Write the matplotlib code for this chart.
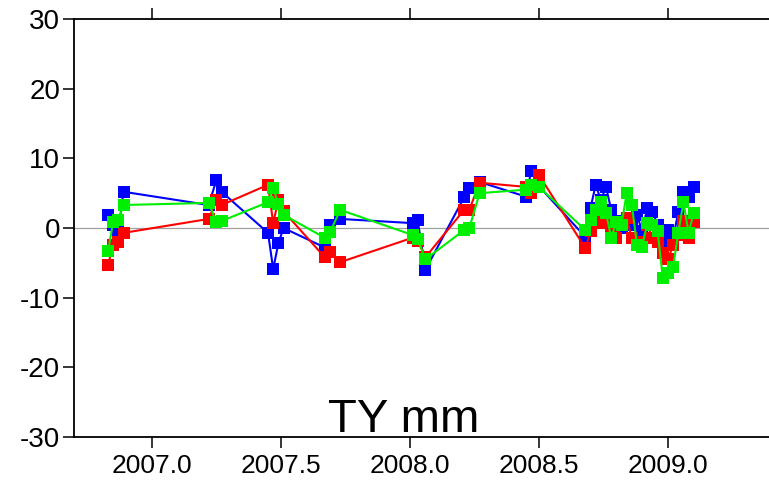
"""TY component time series, three solutions (blue / red / green)."""

import matplotlib

matplotlib.use("Agg")
import matplotlib.pyplot as plt

plt.rcParams["font.family"] = ["Liberation Sans", "DejaVu Sans"]
plt.rcParams["axes.unicode_minus"] = False

# epochs (decimal year), shared by the three series
EPOCHS = [
    2006.83, 2006.85, 2006.87, 2006.89,
    2007.22, 2007.25, 2007.27,
    2007.45, 2007.47, 2007.49, 2007.51,
    2007.67, 2007.69, 2007.73,
    2008.01, 2008.03, 2008.06,
    2008.21, 2008.23, 2008.27,
    2008.45, 2008.47, 2008.50,
    2008.68, 2008.70, 2008.72, 2008.74, 2008.76, 2008.78, 2008.80,
    2008.82, 2008.84, 2008.86, 2008.88, 2008.90, 2008.92, 2008.94,
    2008.96, 2008.98, 2009.00, 2009.02, 2009.04, 2009.06, 2009.08,
    2009.10,
]

TY_BLUE = [
    1.9, 0.4, -0.3, 5.2,
    3.3, 6.9, 5.2,
    -0.7, -5.9, -2.2, 0.0,
    -2.8, 0.4, 1.3,
    0.7, 1.1, -6.0,
    4.4, 5.7, 6.6,
    4.5, 8.2, 6.0,
    -1.3, 2.9, 6.2, 4.0, 5.9, 2.6, 1.0,
    0.0, 1.5, 0.5, 1.9, -0.5, 2.9, 2.3,
    0.5, -2.0, -0.3, -1.5, 2.3, 5.2, 4.5,
    5.9,
]

TY_RED = [
    -5.3, -2.4, -2.0, -0.7,
    1.3, 4.0, 3.3,
    6.2, 0.7, 4.0, 2.4,
    -4.2, -3.4, -4.9,
    -1.4, -1.8, -4.2,
    2.6, 2.6, 6.5,
    5.9, 5.0, 7.6,
    -2.9, -0.5, 0.7, 1.5, 0.7, -0.5, -1.4,
    0.5, 1.5, -1.5, -2.5, -2.0, 0.5, -1.5,
    -2.0, -3.6, -4.5, -2.5, -1.0, 1.0, -1.5,
    0.9,
]

TY_GREEN = [
    -3.3, 0.9, 1.1, 3.3,
    3.6, 0.8, 1.0,
    3.7, 5.7, 3.5, 1.9,
    -1.4, -0.6, 2.6,
    -1.0, -1.6, -4.5,
    -0.3, 0.0, 5.0,
    5.5, 6.2, 5.9,
    -0.3, 1.1, 2.6, 3.7, 2.2, -1.4, 0.9,
    0.5, 5.0, 3.3, -2.4, -2.7, 0.7, 0.5,
    -0.5, -7.2, -6.5, -5.6, -0.7, 3.7, -0.7,
    2.2,
]

X_TICKS = [2007.0, 2007.5, 2008.0, 2008.5, 2009.0]
Y_TICKS = [-30, -20, -10, 0, 10, 20, 30]


def main() -> None:
    fig = plt.figure(figsize=(7.69, 4.8), dpi=100)
    # right edge of the frame falls outside the picture, as in the original
    ax = fig.add_axes([74 / 769, 43 / 480, 716 / 769, 418 / 480])

    ax.axhline(0, color="#a0a0a0", lw=0.9, zorder=1)
    for ys, color in [(TY_BLUE, "#0000ff"), (TY_RED, "#ff0000"), (TY_GREEN, "#00ee00")]:
        ax.plot(
            EPOCHS, ys, color=color, lw=1.5, marker="s", markersize=8.5,
            markeredgewidth=0, zorder=2,
        )

    ax.set_xlim(2006.698, 2009.473)
    ax.set_ylim(-30, 30)
    ax.set_xticks(X_TICKS)
    ax.set_xticklabels([f"{t:.1f}" for t in X_TICKS])
    ax.set_yticks(Y_TICKS)

    ax.tick_params(axis="x", which="both", direction="out", length=8, width=1.1,
                   top=True, labeltop=False, labelsize=19, pad=4)
    ax.tick_params(axis="y", direction="out", length=8, width=1.1,
                   labelsize=20, pad=2)
    for side in ["left", "top", "bottom"]:
        ax.spines[side].set_linewidth(1.3)
    ax.spines["right"].set_visible(False)

    fig.text(404 / 769, 48 / 480, "TY mm", fontsize=34, ha="center", va="baseline")

    fig.savefig("out.png", dpi=100)


if __name__ == "__main__":
    main()
